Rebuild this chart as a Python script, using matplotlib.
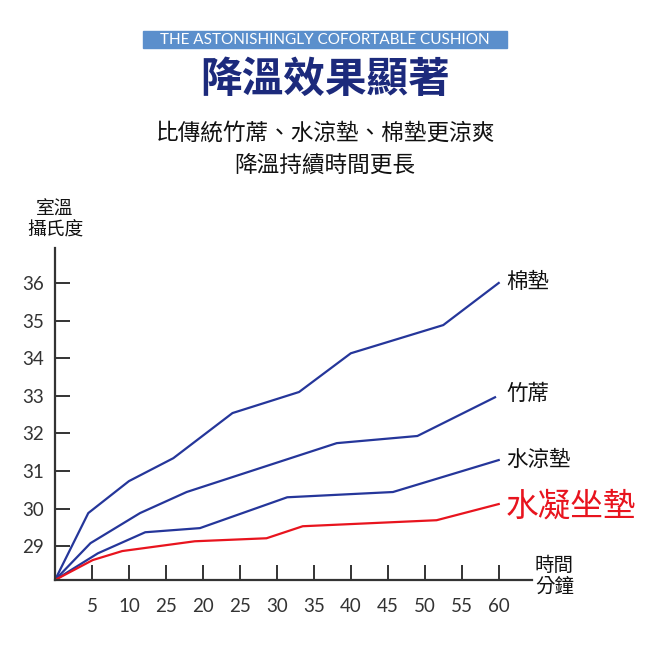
import matplotlib.pyplot as plt
from matplotlib.patches import Rectangle

plt.rcParams['font.family'] = ['Noto Sans CJK TC', 'DejaVu Sans']

# 時間位置 (每格 5 分鐘)
tick_pos = [5, 10, 15, 20, 25, 30, 35, 40, 45, 50, 55, 60]
tick_labels = ['5', '10', '25', '20', '25', '30', '35', '40', '45', '50', '55', '60']

# 各材質溫度曲線 (讀圖估計)
x_mian = [0, 4.5, 10, 16, 24, 33, 40, 52.5, 60]
y_mian = [28.1, 29.88, 30.73, 31.34, 32.54, 33.10, 34.13, 34.88, 36.0]

x_zhu = [0, 4.8, 11.5, 17.8, 38.1, 49.0, 59.5]
y_zhu = [28.1, 29.08, 29.88, 30.44, 31.74, 31.93, 32.96]

x_shui = [0, 5.8, 12.2, 19.6, 31.4, 45.7, 60]
y_shui = [28.1, 28.81, 29.37, 29.48, 30.30, 30.44, 31.29]

x_ning = [0, 5.1, 9.1, 18.9, 28.6, 33.5, 51.6, 60]
y_ning = [28.1, 28.63, 28.87, 29.13, 29.21, 29.53, 29.69, 30.12]

navy = '#25369a'
red = '#e8141e'
gray = '#333333'

fig = plt.figure(figsize=(6.5, 6.5), dpi=100)

# 標題區
fig.patches.append(Rectangle((143/650, 1-48/650), 364/650, 17/650,
                             transform=fig.transFigure, color='#5b8fcc'))
fig.text(0.5, 1-39.5/650, 'THE ASTONISHINGLY COFORTABLE CUSHION', color='white',
         fontsize=11, ha='center', va='center', family=['Lato', 'DejaVu Sans'])
fig.text(0.5, 1-80/650, '降溫效果顯著', color='#1c2a7c', fontsize=30,
         fontweight='black', ha='center', va='center')
fig.text(0.5, 1-133/650, '比傳統竹蓆、水涼墊、棉墊更涼爽', fontsize=16.3,
         ha='center', va='center', color='#111111')
fig.text(0.5, 1-165/650, '降溫持續時間更長', fontsize=16.3,
         ha='center', va='center', color='#111111')

ax = fig.add_axes([55/650, 1-580/650, 477/650, 332/650])
ax.plot(x_mian, y_mian, color=navy, lw=1.6)
ax.plot(x_zhu, y_zhu, color=navy, lw=1.6)
ax.plot(x_shui, y_shui, color=navy, lw=1.6)
ax.plot(x_ning, y_ning, color=red, lw=1.6)

ax.set_xlim(0, 64.5)
ax.set_ylim(28.1, 36.93)
ax.set_xticks(tick_pos)
ax.set_xticklabels(tick_labels)
ax.set_yticks(range(29, 37))

for s in ['top', 'right']:
    ax.spines[s].set_visible(False)
for s in ['left', 'bottom']:
    ax.spines[s].set_color(gray)
    ax.spines[s].set_linewidth(1.6)
ax.tick_params(direction='in', length=11, width=1.4, color=gray,
               labelsize=13.5, labelcolor=gray)
ax.tick_params(axis='x', pad=13)
ax.tick_params(axis='y', pad=8)
for lab in ax.get_xticklabels() + ax.get_yticklabels():
    lab.set_family(['Lato', 'DejaVu Sans'])

# 曲線標示
ax.text(61.0, y_mian[-1] + 0.02, '棉墊', fontsize=15.5, va='center', color='#111111')
ax.text(61.0, y_zhu[-1] + 0.08, '竹蓆', fontsize=15.5, va='center', color='#111111')
ax.text(61.0, y_shui[-1] + 0.0, '水涼墊', fontsize=15.5, va='center', color='#111111')
ax.text(61.0, y_ning[-1] - 0.08, '水凝坐墊', fontsize=23.5, va='center', color=red)

fig.text(55/650, 1-220/650, '室溫\n攝氏度', fontsize=13.5, ha='center', va='center',
         color='#111111', linespacing=1.0)
fig.text(535/650, 1-576/650, '時間\n分鐘', fontsize=14, ha='left', va='center',
         color='#111111', linespacing=1.0)

fig.savefig('out.png', dpi=100)
